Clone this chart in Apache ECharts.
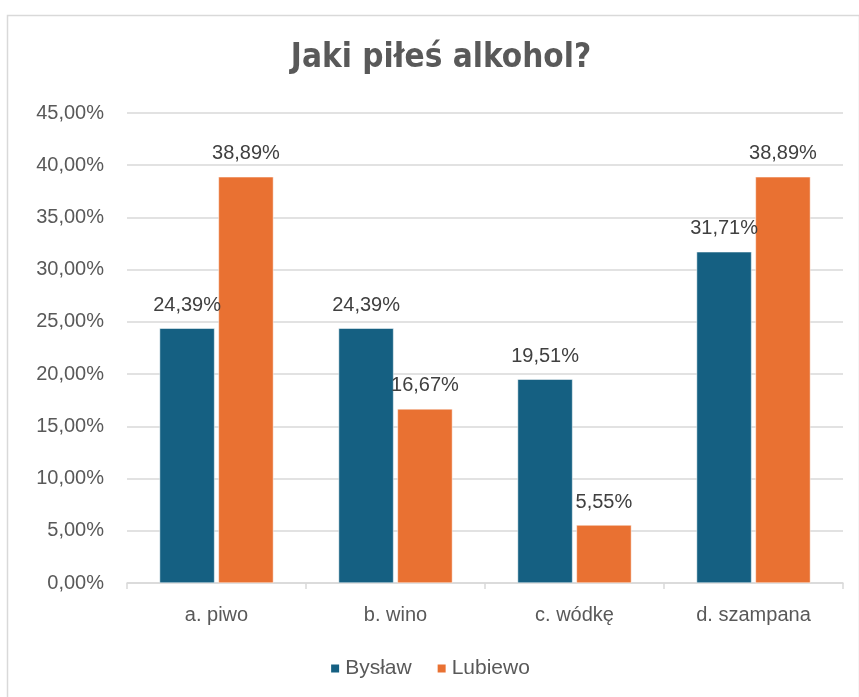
<!DOCTYPE html>
<html>
<head>
<meta charset="utf-8">
<script src="https://cdn.jsdelivr.net/npm/echarts@6/dist/echarts.min.js"></script>
<style>html,body{margin:0;padding:0;background:#fff;}#c{width:859px;height:697px;}</style>
</head>
<body>
<div id="c"></div>
<script>
const categories = ['a. piwo', 'b. wino', 'c. wódkę', 'd. szampana'];
const seriesNames = ['Bysław', 'Lubiewo'];
const byslaw = [24.39, 24.39, 19.51, 31.71];
const lubiewo = [38.89, 16.67, 5.55, 38.89];
const yTicks = [0, 5, 10, 15, 20, 25, 30, 35, 40, 45];

const FONT = "'Liberation Sans', sans-serif";
const fmt = v => v.toFixed(2).replace('.', ',') + '%';
const chart = echarts.init(document.getElementById('c'), null, {renderer: 'canvas'});
const labelStyle = {
  show: true, position: 'top', distance: 13,
  color: '#404040', fontSize: 20, fontFamily: FONT,
  formatter: p => fmt(p.value)
};
chart.setOption({
  animation: false,
  backgroundColor: '#fff',
  graphic: [{
    type: 'rect', left: 5, top: 13,
    shape: {width: 852, height: 700},
    style: {fill: 'none', stroke: '#d9d9d9', lineWidth: 1.5}, z: -1
  }, {
    type: 'text', x: 441, y: 42,
    style: {
      text: 'Jaki piłeś alkohol?', align: 'center', verticalAlign: 'top',
      font: "bold 33px 'DejaVu Sans Condensed', 'DejaVu Sans', sans-serif", fill: '#595959'
    }
  }],
  legend: {
    data: seriesNames, bottom: 13, left: 'center', icon: 'rect',
    itemWidth: 10, itemHeight: 10, itemGap: 24,
    textStyle: {fontFamily: FONT, fontSize: 21, color: '#595959'}
  },
  grid: {left: 127, right: 16, top: 113, bottom: 114, containLabel: false},
  xAxis: {
    type: 'category', data: categories,
    axisLine: {lineStyle: {color: '#d9d9d9', width: 1.5}},
    axisTick: {show: true, length: 6, lineStyle: {color: '#d9d9d9', width: 1.5}},
    axisLabel: {color: '#595959', fontSize: 20, fontFamily: FONT, margin: 22}
  },
  yAxis: {
    type: 'value', min: yTicks[0], max: yTicks[yTicks.length - 1], interval: 5,
    axisLine: {show: false}, axisTick: {show: false},
    splitLine: {lineStyle: {color: '#d9d9d9', width: 1.5}},
    axisLabel: {color: '#595959', fontSize: 20, fontFamily: FONT, margin: 23, formatter: v => fmt(v)}
  },
  series: [
    {name: seriesNames[0], type: 'bar', data: byslaw, barWidth: 55, barGap: '7%',
     itemStyle: {color: '#156082', borderColor: '#fff', borderWidth: 0.5}, label: labelStyle},
    {name: seriesNames[1], type: 'bar', data: lubiewo, barWidth: 55,
     itemStyle: {color: '#E97132', borderColor: '#fff', borderWidth: 0.5}, label: labelStyle}
  ]
});
</script>
</body>
</html>
